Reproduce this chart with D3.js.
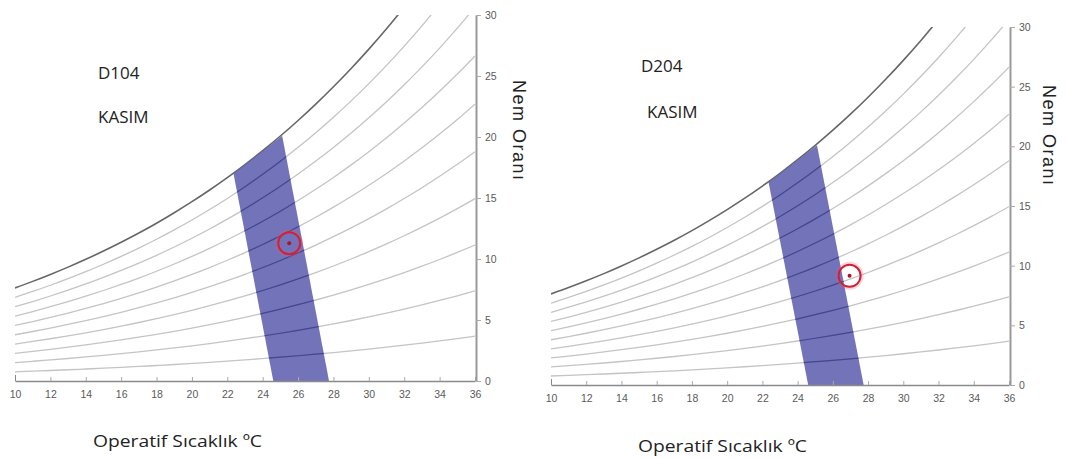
<!DOCTYPE html>
<html lang="tr">
<head>
<meta charset="UTF-8">
<title>Psikrometrik diyagram - D104 / D204 Kasım</title>
<script src="https://cdn.jsdelivr.net/npm/d3@7"></script>
<style>
  html, body { margin: 0; padding: 0; background: #fff; }
  svg { display: block; }
  .tick text { font-family: "Liberation Sans", Arial, sans-serif; font-size: 10.5px; fill: #5a5a5a; }
  .title { font-family: "Open Sans", sans-serif; font-size: 17px; fill: #222; }
  .xlab { font-family: "Open Sans", sans-serif; font-size: 16px; fill: #222; }
  .ylab { font-family: "Liberation Sans", Arial, sans-serif; font-size: 18px; fill: #222; }
</style>
</head>
<body>
<div id="chart"></div>
<script>
// --- data ---
const tempTicks = [10, 12, 14, 16, 18, 20, 22, 24, 26, 28, 30, 32, 34, 36];
const humidityTicks = [0, 5, 10, 15, 20, 25, 30];
// saturation vapour pressure (kPa) at each degree, 10..36 °C
const satTemps = [10, 11, 12, 13, 14, 15, 16, 17, 18, 19, 20, 21, 22, 23, 24, 25, 26, 27, 28, 29, 30, 31, 32, 33, 34, 35, 36];
const satPressure = [1.228, 1.313, 1.403, 1.498, 1.599, 1.706, 1.819, 1.938, 2.064, 2.198, 2.339, 2.488, 2.645, 2.810,
                     2.985, 3.169, 3.363, 3.567, 3.782, 4.008, 4.246, 4.495, 4.758, 5.034, 5.323, 5.627, 5.945];
const rhLevels = [10, 20, 30, 40, 50, 60, 70, 80, 90, 100];
// comfort zone corners (temp, humidity ratio g/kg)
const zoneTemps = [22.35, 25.1, 27.75, 24.6];
const zoneHumidity = [17.0, 20.1, 0, 0];
// panels
const roomNames = ["D104", "D204"];
const monthNames = ["KASIM", "KASIM"];
const pointTemps = [25.5, 26.95];
const pointHumidity = [11.3, 9.15];

const atmPressure = 101.325;

// --- layout ---
const width = 1066, height = 459;
const panels = [
  {x: [15, 475], y: [381, 15], title: [98, 79], month: [98, 123], xlab: [93, 447], ylab: [513, 80]},
  {x: [551, 1009], y: [385, 27], title: [641, 72], month: [647, 118], xlab: [638, 452], ylab: [1043, 85]}
];

const svg = d3.select("#chart").append("svg")
  .attr("width", width)
  .attr("height", height);

const rhCurves = rhLevels.map(rh => satTemps.map((t, i) => {
  const pv = rh / 100 * satPressure[i];
  return {t: t, w: 622 * pv / (atmPressure - pv)};
}));

panels.forEach((p, k) => {
  const x = d3.scaleLinear().domain([10, 36]).range(p.x);
  const y = d3.scaleLinear().domain([0, 30]).range(p.y);
  const g = svg.append("g");

  const clipId = "clip" + k;
  svg.append("clipPath").attr("id", clipId)
    .append("rect")
    .attr("x", p.x[0]).attr("y", p.y[1])
    .attr("width", p.x[1] - p.x[0]).attr("height", p.y[0] - p.y[1]);

  const line = d3.line().x(d => x(d.t)).y(d => y(d.w)).curve(d3.curveMonotoneX);
  const zonePts = zoneTemps.map((t, i) => [x(t), y(zoneHumidity[i])].join(",")).join(" ");

  // rh curves
  g.append("g").attr("clip-path", `url(#${clipId})`)
    .selectAll("path")
    .data(rhCurves)
    .join("path")
    .attr("d", line)
    .attr("fill", "none")
    .attr("stroke", (d, i) => rhLevels[i] === 100 ? "#666" : "#c4c4c4")
    .attr("stroke-width", (d, i) => rhLevels[i] === 100 ? 1.6 : 1.3);

  // comfort zone
  g.append("polygon")
    .attr("points", zonePts)
    .attr("fill", "#6464b2")
    .attr("fill-opacity", 0.9);

  // curves seen through the zone
  const zoneClip = "zone" + k;
  svg.append("clipPath").attr("id", zoneClip)
    .append("polygon").attr("points", zonePts);
  g.append("g").attr("clip-path", `url(#${zoneClip})`)
    .selectAll("path")
    .data(rhCurves.slice(0, -1))
    .join("path")
    .attr("d", line)
    .attr("fill", "none")
    .attr("stroke", "#40408c")
    .attr("stroke-opacity", 0.9)
    .attr("stroke-width", 1.2);

  // axes
  const xAxis = g.append("g")
    .attr("transform", `translate(0,${p.y[0]})`)
    .call(d3.axisBottom(x).tickValues(tempTicks).tickSizeInner(-4).tickSizeOuter(0).tickPadding(10));
  xAxis.select(".domain").attr("stroke", "#8a8a8a").attr("stroke-width", 1.6);
  xAxis.selectAll(".tick line").attr("stroke", "#aaa");
  xAxis.select(".tick line").attr("stroke", "#888").attr("y2", -6);

  const yAxis = g.append("g")
    .attr("transform", `translate(${p.x[1] + 1},0)`)
    .call(d3.axisRight(y).tickValues(humidityTicks).tickSizeInner(5).tickSizeOuter(0).tickPadding(4));
  yAxis.select(".domain").attr("stroke", "#999").attr("stroke-width", 2);
  yAxis.selectAll(".tick line").attr("stroke", "#aaa");

  // measured point
  const cx = x(pointTemps[k]), cy = y(pointHumidity[k]);
  g.append("circle").attr("cx", cx).attr("cy", cy).attr("r", 12.5)
    .attr("fill", "none").attr("stroke", "rgba(225,90,110,0.25)").attr("stroke-width", 3);
  g.append("circle").attr("cx", cx).attr("cy", cy).attr("r", 11)
    .attr("fill", "none").attr("stroke", "#d42034").attr("stroke-width", 2);
  g.append("circle").attr("cx", cx).attr("cy", cy).attr("r", 2)
    .attr("fill", "#b5102a");

  // labels
  g.append("text").attr("class", "title").attr("x", p.title[0]).attr("y", p.title[1]).text(roomNames[k]);
  g.append("text").attr("class", "title").attr("x", p.month[0]).attr("y", p.month[1]).text(monthNames[k]);
  g.append("text").attr("class", "xlab").attr("x", p.xlab[0]).attr("y", p.xlab[1])
    .attr("textLength", 169).attr("lengthAdjust", "spacingAndGlyphs")
    .text("Operatif Sıcaklık ºC");
  g.append("text").attr("class", "ylab")
    .attr("transform", `translate(${p.ylab[0]},${p.ylab[1]}) rotate(90)`)
    .attr("textLength", 100).attr("lengthAdjust", "spacing")
    .text("Nem Oranı");
});
</script>
</body>
</html>
